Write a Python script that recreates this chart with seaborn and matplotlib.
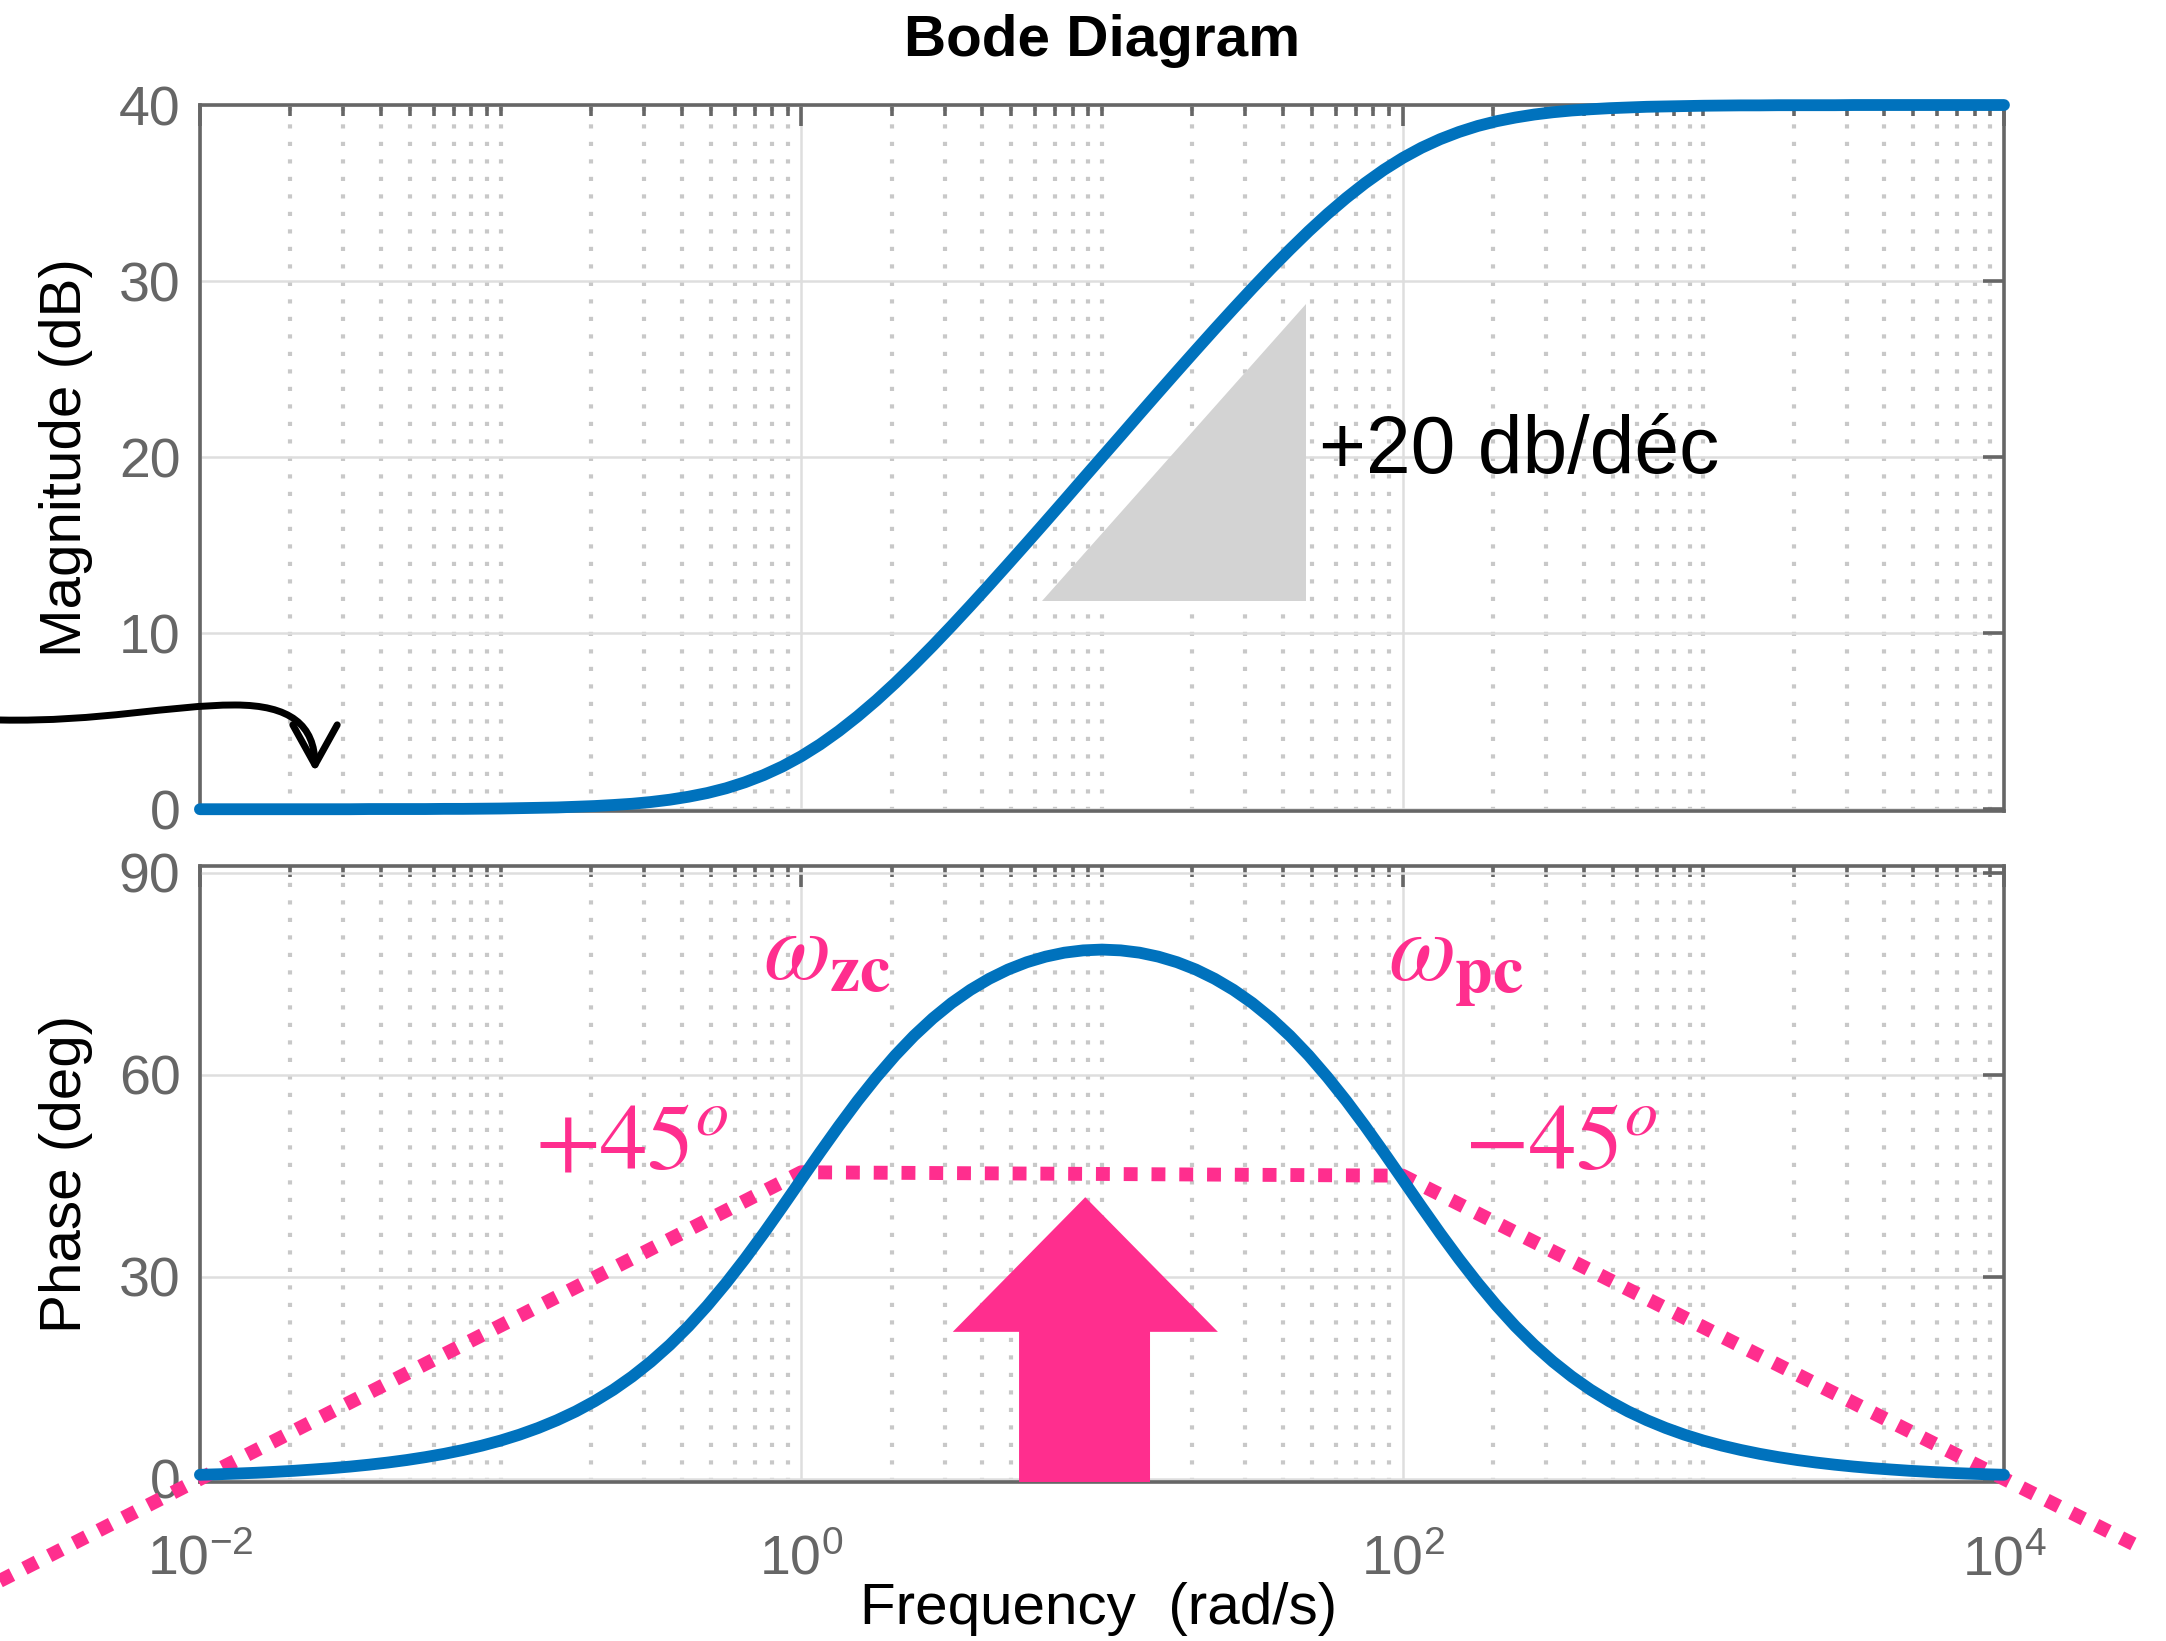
import matplotlib
matplotlib.use("Agg")
import matplotlib.pyplot as plt
import matplotlib.ticker as mticker
from matplotlib.path import Path
from matplotlib.patches import FancyArrowPatch, ArrowStyle
import numpy as np
import pandas as pd
import seaborn as sns

sns.set_theme(style="white")
plt.rcParams["font.family"] = ["Liberation Sans", "DejaVu Sans"]
plt.rcParams["axes.unicode_minus"] = False

BLUE = "#0072BD"
PINK = "#FF2E8E"
AXGRAY = "#666666"

# ── data (1/16-decade steps from 1e-2 to 1e4) ───────────────────────────────
log_freq = [-2.0, -1.9375, -1.875, -1.8125, -1.75, -1.6875, -1.625, -1.5625,
            -1.5, -1.4375, -1.375, -1.3125, -1.25, -1.1875, -1.125, -1.0625,
            -1.0, -0.9375, -0.875, -0.8125, -0.75, -0.6875, -0.625, -0.5625,
            -0.5, -0.4375, -0.375, -0.3125, -0.25, -0.1875, -0.125, -0.0625,
            0.0, 0.0625, 0.125, 0.1875, 0.25, 0.3125, 0.375, 0.4375,
            0.5, 0.5625, 0.625, 0.6875, 0.75, 0.8125, 0.875, 0.9375,
            1.0, 1.0625, 1.125, 1.1875, 1.25, 1.3125, 1.375, 1.4375,
            1.5, 1.5625, 1.625, 1.6875, 1.75, 1.8125, 1.875, 1.9375,
            2.0, 2.0625, 2.125, 2.1875, 2.25, 2.3125, 2.375, 2.4375,
            2.5, 2.5625, 2.625, 2.6875, 2.75, 2.8125, 2.875, 2.9375,
            3.0, 3.0625, 3.125, 3.1875, 3.25, 3.3125, 3.375, 3.4375,
            3.5, 3.5625, 3.625, 3.6875, 3.75, 3.8125, 3.875, 3.9375, 4.0]
magnitude_db = [0.00, 0.00, 0.00, 0.00, 0.00, 0.00, 0.00, 0.00,
                0.00, 0.01, 0.01, 0.01, 0.01, 0.02, 0.02, 0.03,
                0.04, 0.06, 0.08, 0.10, 0.14, 0.18, 0.24, 0.31,
                0.41, 0.54, 0.71, 0.92, 1.19, 1.53, 1.94, 2.43,
                3.01, 3.68, 4.44, 5.28, 6.19, 7.17, 8.21, 9.29,
                10.41, 11.56, 12.73, 13.92, 15.12, 16.33, 17.55, 18.78,
                20.00, 21.22, 22.45, 23.67, 24.88, 26.08, 27.27, 28.44,
                29.59, 30.71, 31.79, 32.83, 33.81, 34.72, 35.56, 36.32,
                36.99, 37.57, 38.06, 38.47, 38.81, 39.08, 39.29, 39.46,
                39.59, 39.69, 39.76, 39.82, 39.86, 39.90, 39.92, 39.94,
                39.96, 39.97, 39.98, 39.98, 39.99, 39.99, 39.99, 39.99,
                40.00, 40.00, 40.00, 40.00, 40.00, 40.00, 40.00, 40.00, 40.00]
phase_deg = [0.57, 0.65, 0.76, 0.87, 1.01, 1.16, 1.35, 1.55,
             1.79, 2.07, 2.39, 2.76, 3.19, 3.68, 4.25, 4.90,
             5.65, 6.52, 7.52, 8.67, 9.98, 11.49, 13.20, 15.16,
             17.37, 19.85, 22.62, 25.69, 29.04, 32.63, 36.43, 40.39,
             44.43, 48.45, 52.37, 56.12, 59.62, 62.86, 65.78, 68.37,
             70.64, 72.59, 74.24, 75.61, 76.70, 77.53, 78.12, 78.46,
             78.58, 78.46, 78.12, 77.53, 76.70, 75.61, 74.24, 72.59,
             70.64, 68.37, 65.78, 62.86, 59.62, 56.12, 52.37, 48.45,
             44.43, 40.39, 36.43, 32.63, 29.04, 25.69, 22.62, 19.85,
             17.37, 15.16, 13.20, 11.49, 9.98, 8.67, 7.52, 6.52,
             5.65, 4.90, 4.25, 3.68, 3.19, 2.76, 2.39, 2.07,
             1.79, 1.55, 1.35, 1.16, 1.01, 0.87, 0.76, 0.65, 0.57]

# straight-line phase approximation (extends past the axes)
asym_freq = [10 ** -2.666, 1.0, 100.0, 10 ** 4.47]
asym_phase = [-15.2, 45.5, 45.0, -10.6]

# annotation shapes
tri_freq = [6.34, 47.8, 47.8]
tri_mag = [11.8, 11.8, 28.7]
arrow_freq = [5.30, 5.30, 3.19, 8.8, 24.3, 14.45, 14.45]
arrow_phase = [-0.5, 21.8, 21.8, 41.8, 21.8, 21.8, -0.5]

xtick_vals = [1e-2, 1e0, 1e2, 1e4]
mag_ticks = [0, 10, 20, 30, 40]
phase_ticks = [0, 30, 60, 90]

df = pd.DataFrame({"freq": np.power(10.0, log_freq),
                   "mag": magnitude_db, "phase": phase_deg})

fig = plt.figure(figsize=(21.66, 16.41), dpi=100)
ax1 = fig.add_axes([0.0923, 0.5058, 0.8329, 0.4302])
ax2 = fig.add_axes([0.0923, 0.0969, 0.8329, 0.3754])


def style_axes(ax):
    ax.set_xscale("log")
    ax.set_xlim(1e-2, 1e4)
    ax.xaxis.set_major_locator(mticker.FixedLocator(xtick_vals))
    ax.xaxis.set_minor_locator(mticker.LogLocator(base=10, subs=np.arange(1, 10), numticks=50))
    ax.xaxis.set_minor_formatter(mticker.NullFormatter())
    ax.yaxis.set_minor_locator(mticker.NullLocator())
    ax.set_axisbelow(True)
    ax.grid(which="major", color="#dedede", lw=1.8, ls="-")
    ax.grid(which="minor", axis="x", color="#c8c8c8", lw=3.0, ls=(0, (1, 3.2)))
    for sp in ax.spines.values():
        sp.set_visible(True)
        sp.set_color(AXGRAY)
        sp.set_linewidth(2.6)
    ax.tick_params(which="both", direction="in", top=True, right=True,
                   color=AXGRAY, width=2.6, labelcolor=AXGRAY, labelsize=40)
    ax.tick_params(which="major", length=15, pad=14)
    ax.tick_params(which="minor", length=8)
    ax.tick_params(axis="x", which="major", pad=38)


# ── magnitude ────────────────────────────────────────────────────────────────
style_axes(ax1)
ax1.fill(tri_freq, tri_mag, color="#d3d3d3", lw=0, zorder=2)
sns.lineplot(data=df, x="freq", y="mag", ax=ax1, color=BLUE, lw=8.5,
             clip_on=False, zorder=5)
ax1.set_ylim(-0.1, 40)
ax1.set_yticks(mag_ticks)
ax1.tick_params(labelbottom=False)
ax1.set_xlabel("")
ax1.set_ylabel("Magnitude (dB)", fontsize=42, color="black")
ax1.yaxis.set_label_coords(-0.059, 0.5)
ax1.text(52.6, 20.3, "+20 db/déc", fontsize=58, color="black",
         ha="left", va="center")
ax1.text(0.5, 1.09, "Bode Diagram", transform=ax1.transAxes, fontsize=42,
         fontweight="bold", color="black", ha="center", va="center")

# ── phase ────────────────────────────────────────────────────────────────────
style_axes(ax2)
ax2.fill(arrow_freq, arrow_phase, color=PINK, lw=0, zorder=3)
ax2.plot(asym_freq, asym_phase, color=PINK, lw=10, ls=(0, (1, 1)),
         dash_capstyle="butt", clip_on=False, zorder=4)
sns.lineplot(data=df, x="freq", y="phase", ax=ax2, color=BLUE, lw=8.5,
             clip_on=False, zorder=5)
ax2.set_ylim(-0.5, 91)
ax2.set_yticks(phase_ticks)
ax2.xaxis.set_major_formatter(mticker.LogFormatterSciNotation())
ax2.set_ylabel("Phase (deg)", fontsize=42, color="black")
ax2.yaxis.set_label_coords(-0.059, 0.5)
ax2.set_xlabel("Frequency  (rad/s)", fontsize=42, color="black")
ax2.xaxis.set_label_coords(0.498, -0.162)

ax2.text(0.748, 74, r"$\omega_{\mathbf{zc}}$", fontsize=70, color=PINK,
         math_fontfamily="stix", ha="left", va="baseline")
ax2.text(89.1, 74, r"$\omega_{\mathbf{pc}}$", fontsize=70, color=PINK,
         math_fontfamily="stix", ha="left", va="baseline")
ax2.text(0.1306, 46, r"$+45^o$", fontsize=68, color=PINK,
         math_fontfamily="stix", ha="left", va="baseline")
ax2.text(159.6, 46, r"$-45^o$", fontsize=68, color=PINK,
         math_fontfamily="stix", ha="left", va="baseline")

# ── curved black pointer on the left ─────────────────────────────────────────
W, H = 2166.0, 1641.0
px = [(0, 720), (100, 722), (170, 705), (235, 705),
      (290, 705), (315, 725), (315, 772)]
verts = [(x / W, 1 - y / H) for x, y in px]
codes = [Path.MOVETO, Path.CURVE4, Path.CURVE4, Path.CURVE4,
         Path.CURVE4, Path.CURVE4, Path.CURVE4]
pointer = FancyArrowPatch(path=Path(verts, codes),
                          arrowstyle=ArrowStyle("->", head_length=0.9, head_width=0.5),
                          mutation_scale=32, lw=5, color="black",
                          transform=fig.transFigure, clip_on=False)
fig.add_artist(pointer)

fig.savefig("out.png", dpi=100)
